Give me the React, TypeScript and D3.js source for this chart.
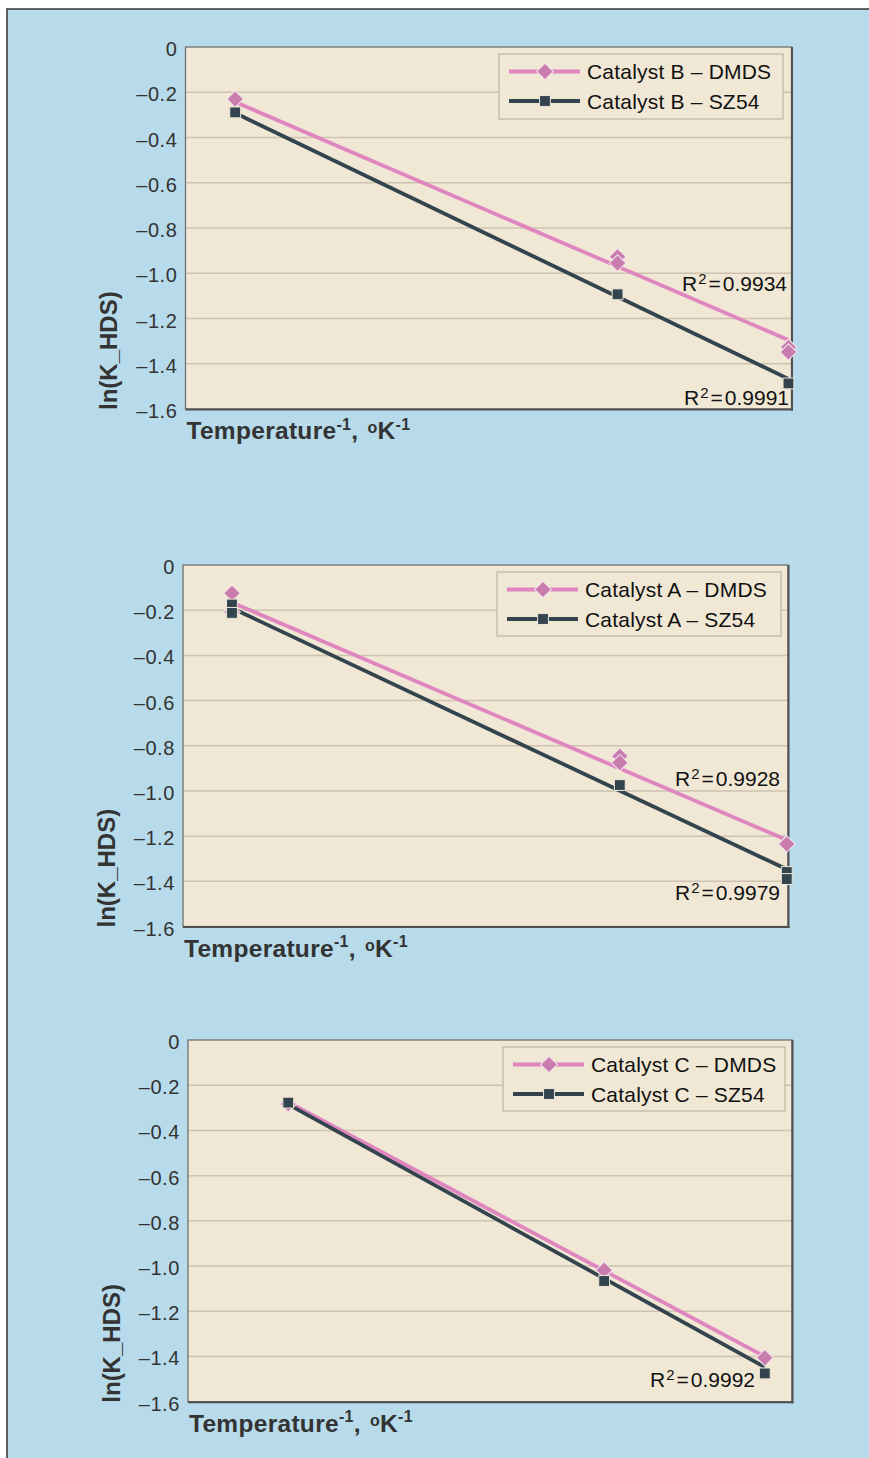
import React from 'react';
import * as d3 from 'd3';

// ---------- data ----------
const yTicks = [0, -0.2, -0.4, -0.6, -0.8, -1.0, -1.2, -1.4, -1.6];
const xDomain: [number, number] = [1.57, 1.67]; // 1000/T, K^-1

// Catalyst B
const invT_B = [1.5782, 1.6413, 1.6695];
const B_DMDS: [number, number][] = [[1.5782, -0.230], [1.6413, -0.927], [1.6413, -0.955], [1.6695, -1.327], [1.6695, -1.348]];
const B_SZ54: [number, number][] = [[1.5782, -0.289], [1.6413, -1.093], [1.6695, -1.487]];
const B_DMDS_fit = [-0.243, -1.295];
const B_SZ54_fit = [-0.292, -1.467];
const B_names = ['Catalyst B – DMDS', 'Catalyst B – SZ54'];
const B_R2 = ['0.9934', '0.9991'];

// Catalyst A
const invT_A = [1.5781, 1.6422, 1.6698];
const A_DMDS: [number, number][] = [[1.5781, -0.125], [1.5781, -0.208], [1.6422, -0.846], [1.6422, -0.875], [1.6698, -1.235]];
const A_SZ54: [number, number][] = [[1.5781, -0.175], [1.5781, -0.212], [1.6422, -0.974], [1.6698, -1.359], [1.6698, -1.390]];
const A_DMDS_fit = [-0.166, -1.217];
const A_SZ54_fit = [-0.191, -1.347];
const A_names = ['Catalyst A – DMDS', 'Catalyst A – SZ54'];
const A_R2 = ['0.9928', '0.9979'];

// Catalyst C
const invT_C = [1.5866, 1.6389, 1.6655];
const C_DMDS: [number, number][] = [[1.5866, -0.283], [1.6389, -1.018], [1.6655, -1.406]];
const C_SZ54: [number, number][] = [[1.5866, -0.277], [1.6389, -1.066], [1.6655, -1.475]];
const C_DMDS_fit = [-0.275, -1.400];
const C_SZ54_fit = [-0.285, -1.447];
const C_names = ['Catalyst C – DMDS', 'Catalyst C – SZ54'];
const C_R2 = ['0.9992'];

// ---------- styles / layout ----------
const FONT = '"Liberation Sans", Arial, Helvetica, sans-serif';
const PANEL_BG = '#b7dbea';
const PLOT_BG = '#f0e7d4';
const GRID = '#cdc3b0';
const PINK_LINE = '#df86c0';
const PINK_MARK = '#c97daf';
const DARK = '#33444f';
const TEXT = '#333333';

type Frame = { left: number; right: number; top: number; bottom: number };
type Box = { x: number; y: number; w: number; h: number };
type R2Lab = { text: string; v: number; dx: number };

const diamondPath = d3.symbol(d3.symbolSquare, 138)() as string;
const squarePath = d3.symbol(d3.symbolSquare, 118)() as string;

function Diamond({ cx, cy }: { cx: number; cy: number }) {
  return (
    <path d={diamondPath} transform={`translate(${cx},${cy}) rotate(45)`} fill={PINK_MARK} stroke="#f4e8ee" strokeWidth={1} />
  );
}
function Square({ cx, cy }: { cx: number; cy: number }) {
  return <path d={squarePath} transform={`translate(${cx},${cy})`} fill={DARK} stroke="#eee6d6" strokeWidth={1} />;
}

function Chart(props: {
  frame: Frame;
  legend: Box;
  xs: number[];
  dmds: [number, number][];
  sz: [number, number][];
  dmdsFit: number[];
  szFit: number[];
  names: string[];
  r2: R2Lab[];
}) {
  const { frame, legend, xs, dmds, sz, dmdsFit, szFit, names, r2 } = props;
  const x = d3.scaleLinear().domain(xDomain).range([frame.left, frame.right]);
  const y = d3.scaleLinear().domain([0, -1.6]).range([frame.top, frame.bottom]);
  const line = d3
    .line<[number, number]>()
    .x((d) => x(d[0]))
    .y((d) => y(d[1]));
  const dmdsLine = line([[xs[0], dmdsFit[0]], [xs[xs.length - 1], dmdsFit[1]]]) as string;
  const szLine = line([[xs[0], szFit[0]], [xs[xs.length - 1], szFit[1]]]) as string;

  const row1 = legend.y + 17.5;
  const row2 = legend.y + 47;
  const lx0 = legend.x + 10;
  const lx1 = legend.x + 81;
  const lmx = legend.x + 46;

  return (
    <g>
      <rect x={frame.left} y={frame.top} width={frame.right - frame.left} height={frame.bottom - frame.top} fill={PLOT_BG} />
      {yTicks
        .filter((t) => t !== 0 && t !== -1.6)
        .map((t) => (
          <line key={t} x1={frame.left} x2={frame.right} y1={y(t)} y2={y(t)} stroke={GRID} strokeWidth={1.5} />
        ))}
      <rect x={frame.left} y={frame.top} width={frame.right - frame.left} height={frame.bottom - frame.top} fill="none" stroke="#707070" strokeWidth={1.3} />
      <line x1={frame.right + 0.5} x2={frame.right + 0.5} y1={frame.top} y2={frame.bottom + 1.5} stroke="#505050" strokeWidth={2} />
      <line x1={frame.left} x2={frame.right + 1.5} y1={frame.bottom + 0.5} y2={frame.bottom + 0.5} stroke="#505050" strokeWidth={2} />

      {yTicks.map((t) => (
        <text key={t} x={frame.left - 8} y={y(t) + 9} textAnchor="end" fontSize={20} fill={TEXT} fontFamily={FONT} letterSpacing={0.6}>
          {t === 0 ? '0' : '–' + Math.abs(t).toFixed(1)}
        </text>
      ))}

      <text transform={`translate(${frame.left - 68.5},${frame.bottom + 1}) rotate(-90)`} fontSize={24} fontWeight="bold" fill={TEXT} fontFamily={FONT}>
        ln(K_HDS)
      </text>

      <text x={frame.left + 1} y={frame.bottom + 30} fontSize={24.5} fontWeight="bold" fill={TEXT} fontFamily={FONT} letterSpacing={0.3}>
        Temperature
        <tspan fontSize={16} dy={-9.5}>-1</tspan>
        <tspan dy={9.5}>, </tspan>
        <tspan fontSize={16} dy={-6} dx={2}>o</tspan>
        <tspan dy={6}>K</tspan>
        <tspan fontSize={16} dy={-9.5}>-1</tspan>
      </text>

      <path d={dmdsLine} stroke={PINK_LINE} strokeWidth={3.8} fill="none" />
      <path d={szLine} stroke={DARK} strokeWidth={3.8} fill="none" />
      {dmds.map((d, i) => (
        <Diamond key={'d' + i} cx={x(d[0])} cy={y(d[1])} />
      ))}
      {sz.map((d, i) => (
        <Square key={'s' + i} cx={x(d[0])} cy={y(d[1])} />
      ))}

      {r2.map((r, i) => (
        <text key={'r' + i} x={frame.right - r.dx} y={y(r.v)} textAnchor="end" fontSize={21} fill="#111" fontFamily={FONT}>
          R<tspan fontSize={15} dy={-7} dx={1}>2</tspan>
          <tspan dy={7} dx={2}>=</tspan>
          <tspan dx={2}>{r.text}</tspan>
        </text>
      ))}

      <rect x={legend.x} y={legend.y} width={legend.w} height={legend.h} fill={PLOT_BG} stroke="#c9bfae" strokeWidth={1.5} />
      <line x1={lx0} x2={lx1} y1={row1} y2={row1} stroke={PINK_LINE} strokeWidth={3.8} />
      <Diamond cx={lmx} cy={row1} />
      <line x1={lx0} x2={lx1} y1={row2} y2={row2} stroke={DARK} strokeWidth={3.8} />
      <Square cx={lmx} cy={row2} />
      <text x={legend.x + 88} y={row1 + 7.5} fontSize={21} fill="#111" fontFamily={FONT} letterSpacing={0.2}>
        {names[0]}
      </text>
      <text x={legend.x + 88} y={row2 + 7.5} fontSize={21} fill="#111" fontFamily={FONT} letterSpacing={0.2}>
        {names[1]}
      </text>
    </g>
  );
}

export default function App() {
  return (
    <svg width={869} height={1458} style={{ position: 'absolute', left: 0, top: 0, display: 'block' }}>
      <rect x={0} y={0} width={869} height={1458} fill="#ffffff" />
      <rect x={7} y={9} width={900} height={1500} fill={PANEL_BG} stroke="#333" strokeWidth={1.5} />
      <Chart
        frame={{ left: 185.5, right: 791.5, top: 47, bottom: 409 }}
        legend={{ x: 499, y: 54, w: 284, h: 65 }}
        xs={invT_B}
        dmds={B_DMDS}
        sz={B_SZ54}
        dmdsFit={B_DMDS_fit}
        szFit={B_SZ54_fit}
        names={B_names}
        r2={[
          { text: B_R2[0], v: -1.078, dx: 4.5 },
          { text: B_R2[1], v: -1.582, dx: 2.5 },
        ]}
      />
      <Chart
        frame={{ left: 183, right: 788, top: 565, bottom: 926.5 }}
        legend={{ x: 497, y: 572, w: 284, h: 64 }}
        xs={invT_A}
        dmds={A_DMDS}
        sz={A_SZ54}
        dmdsFit={A_DMDS_fit}
        szFit={A_SZ54_fit}
        names={A_names}
        r2={[
          { text: A_R2[0], v: -0.978, dx: 8 },
          { text: A_R2[1], v: -1.483, dx: 8 },
        ]}
      />
      <Chart
        frame={{ left: 188, right: 792, top: 1040, bottom: 1401.7 }}
        legend={{ x: 503, y: 1047, w: 282, h: 64 }}
        xs={invT_C}
        dmds={C_DMDS}
        sz={C_SZ54}
        dmdsFit={C_DMDS_fit}
        szFit={C_SZ54_fit}
        names={C_names}
        r2={[{ text: C_R2[0], v: -1.534, dx: 37 }]}
      />
    </svg>
  );
}
